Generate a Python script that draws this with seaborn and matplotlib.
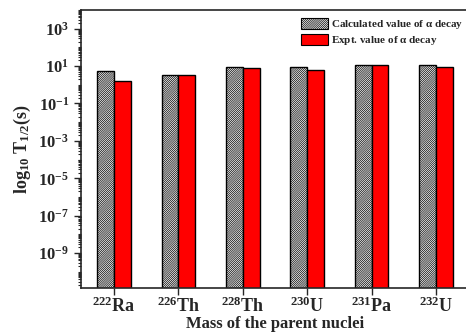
import pandas as pd
import numpy as np
import matplotlib
import matplotlib.pyplot as plt
import matplotlib.ticker as mticker
from matplotlib.patches import Patch
import seaborn as sns

# data
nuclei = ['$\\mathrm{^{222}}$Ra', '$\\mathrm{^{226}}$Th', '$\\mathrm{^{228}}$Th',
          '$\\mathrm{^{230}}$U', '$\\mathrm{^{231}}$Pa', '$\\mathrm{^{232}}$U']
calc_vals = [5.4, 3.3, 8.9, 8.5, 11.0, 11.0]
expt_vals = [1.6, 3.3, 7.8, 6.1, 11.0, 9.0]
series = ['Calculated value of $\\mathbf{\\alpha}$ decay', 'Expt. value of $\\mathbf{\\alpha}$ decay']

df = pd.DataFrame({
    'Nucleus': nuclei * 2,
    'Series': [series[0]] * len(nuclei) + [series[1]] * len(nuclei),
    'T': calc_vals + expt_vals,
})

sns.set_style('ticks')
plt.rcParams['font.family'] = ['Liberation Serif', 'DejaVu Serif']
plt.rcParams['font.weight'] = 'bold'
plt.rcParams['mathtext.fontset'] = 'custom'
plt.rcParams['mathtext.rm'] = 'Liberation Serif'
plt.rcParams['mathtext.bf'] = 'Liberation Serif:bold'
plt.rcParams['mathtext.it'] = 'Liberation Serif:italic'
plt.rcParams['mathtext.default'] = 'bf'
plt.rcParams['hatch.linewidth'] = 0.5

fig = plt.figure(figsize=(4.66, 3.36), dpi=100)
ax = fig.add_axes([81 / 466, 48 / 336, 388 / 466, 278 / 336])
ax.set_yscale('log')

sns.barplot(data=df, x='Nucleus', y='T', hue='Series', ax=ax,
            palette={series[0]: 'white', series[1]: '#ff0000'}, saturation=1,
            width=0.52, edgecolor='black', linewidth=1.0, legend=False)

hatch = '/' * 16
for bar in ax.containers[0]:
    bar.set_hatch(hatch)

ax.set_ylim(1.35e-11, 1e4)
ax.set_xlim(-0.51, 5.51)

ax.yaxis.set_major_locator(mticker.FixedLocator([10.0 ** e for e in range(-9, 4, 2)]))
ax.yaxis.set_minor_locator(mticker.LogLocator(base=10, subs=np.arange(1, 10), numticks=40))
ax.yaxis.set_major_formatter(mticker.FuncFormatter(lambda v, p: '$\\mathbf{10^{%d}}$' % round(np.log10(v))))
ax.yaxis.set_minor_formatter(mticker.NullFormatter())
ax.tick_params(axis='y', which='major', direction='out', length=5, width=1, labelsize=12)
ax.tick_params(axis='y', which='minor', direction='out', length=2.5, width=0.8)
ax.tick_params(axis='x', which='major', direction='out', length=5, width=1, labelsize=13, pad=1)

for s in ax.spines.values():
    s.set_linewidth(1.2)

ax.set_xlabel('Mass of the parent nuclei', fontsize=12, fontweight='bold', labelpad=0)
ax.set_ylabel('log$_{10}$ T$_{1/2}$(s)', fontsize=13, fontweight='bold', labelpad=4)

handles = [Patch(facecolor='white', edgecolor='black', hatch=hatch, linewidth=0.8),
           Patch(facecolor='#ff0000', edgecolor='black', linewidth=0.8)]
fig.legend(handles, series, loc='upper left', bbox_to_anchor=(299 / 466, 1 - 16 / 336),
           frameon=False, handlelength=2.4, handleheight=1.1,
           handletextpad=0.25, labelspacing=0.25, borderpad=0.2, borderaxespad=0,
           prop={'weight': 'bold', 'size': 8})

fig.savefig('out.png', dpi=100)
